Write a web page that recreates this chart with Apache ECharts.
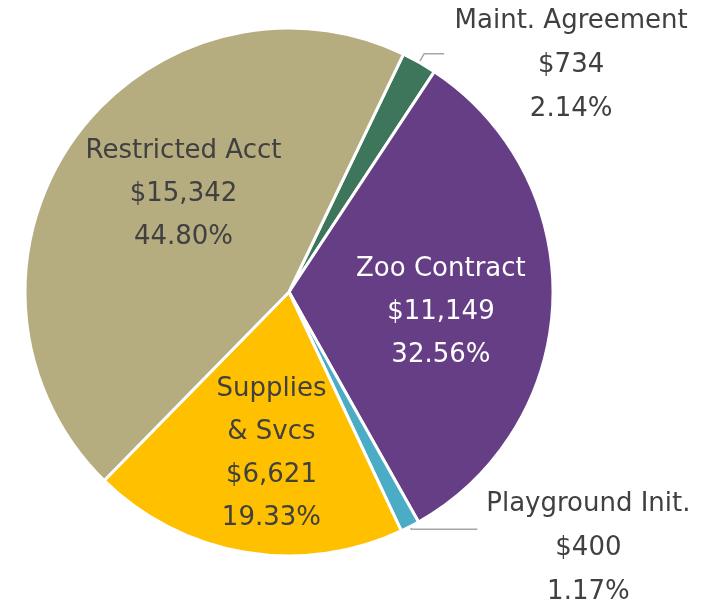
<!DOCTYPE html>
<html>
<head>
<meta charset="utf-8">
<script src="https://cdn.jsdelivr.net/npm/echarts@6/dist/echarts.min.js"></script>
<style>
  html, body { margin: 0; padding: 0; background: #fff; }
  #chart { width: 716px; height: 604px; }
</style>
</head>
<body>
<div id="chart"></div>
<script>
// budget breakdown, clockwise from the top
var names = ['Maint.\u00a0Agreement', 'Zoo Contract', 'Playground Init.', 'Supplies\n& Svcs', 'Restricted Acct'];
var amounts = [734, 11149, 400, 6621, 15342];
var pcts = ['2.14%', '32.56%', '1.17%', '19.33%', '44.80%'];
var colors = ['#3D765B', '#663E85', '#4BACC6', '#FFC000', '#B5AC80'];

var FONT = 'DejaVu Sans';
var FS = 26;

function money(v) {
  return '$' + v.toLocaleString('en-US');
}

function insideLabel(offset, color) {
  return {
    position: 'inside',
    offset: offset,
    color: color,
    fontSize: FS,
    lineHeight: 43,
    fontFamily: FONT
  };
}

function outsideLabel(w) {
  return {
    position: 'outside',
    color: '#404040',
    fontFamily: FONT,
    formatter: function (p) {
      return '{a|' + p.name + '}\n{a|' + money(p.value) + '}\n{a|' + pcts[p.dataIndex] + '}';
    },
    rich: {
      a: { fontSize: FS, lineHeight: 44, width: w, align: 'center', color: '#404040', fontFamily: FONT }
    }
  };
}

var labels = [
  outsideLabel(244),
  insideLabel([17, 16], '#ffffff'),
  outsideLabel(212),
  insideLabel([5, 29], '#404040'),
  insideLabel([5, -20], '#404040')
];
var lines = [
  { length: 10, length2: 20 },
  null,
  { length: 3, length2: 66 },
  null,
  null
];

var seriesData = names.map(function (n, i) {
  var d = {
    name: n,
    value: amounts[i],
    itemStyle: { color: colors[i] },
    label: labels[i]
  };
  if (lines[i]) {
    d.labelLine = { show: true, length: lines[i].length, length2: lines[i].length2, lineStyle: { color: '#A6A6A6', width: 1.5 } };
  }
  return d;
});

var chart = echarts.init(document.getElementById('chart'));
chart.setOption({
  animation: false,
  series: [{
    type: 'pie',
    center: [289, 292],
    radius: [0, 264],
    startAngle: 64.3,
    clockwise: true,
    avoidLabelOverlap: false,
    itemStyle: { borderColor: '#ffffff', borderWidth: 3 },
    label: {
      formatter: function (p) {
        return p.name + '\n' + money(p.value) + '\n' + pcts[p.dataIndex];
      }
    },
    labelLayout: function (p) {
      if (p.dataIndex === 0) return { dy: 12 };
      if (p.dataIndex === 2) return { dy: 19 };
      return {};
    },
    data: seriesData
  }]
});
</script>
</body>
</html>
